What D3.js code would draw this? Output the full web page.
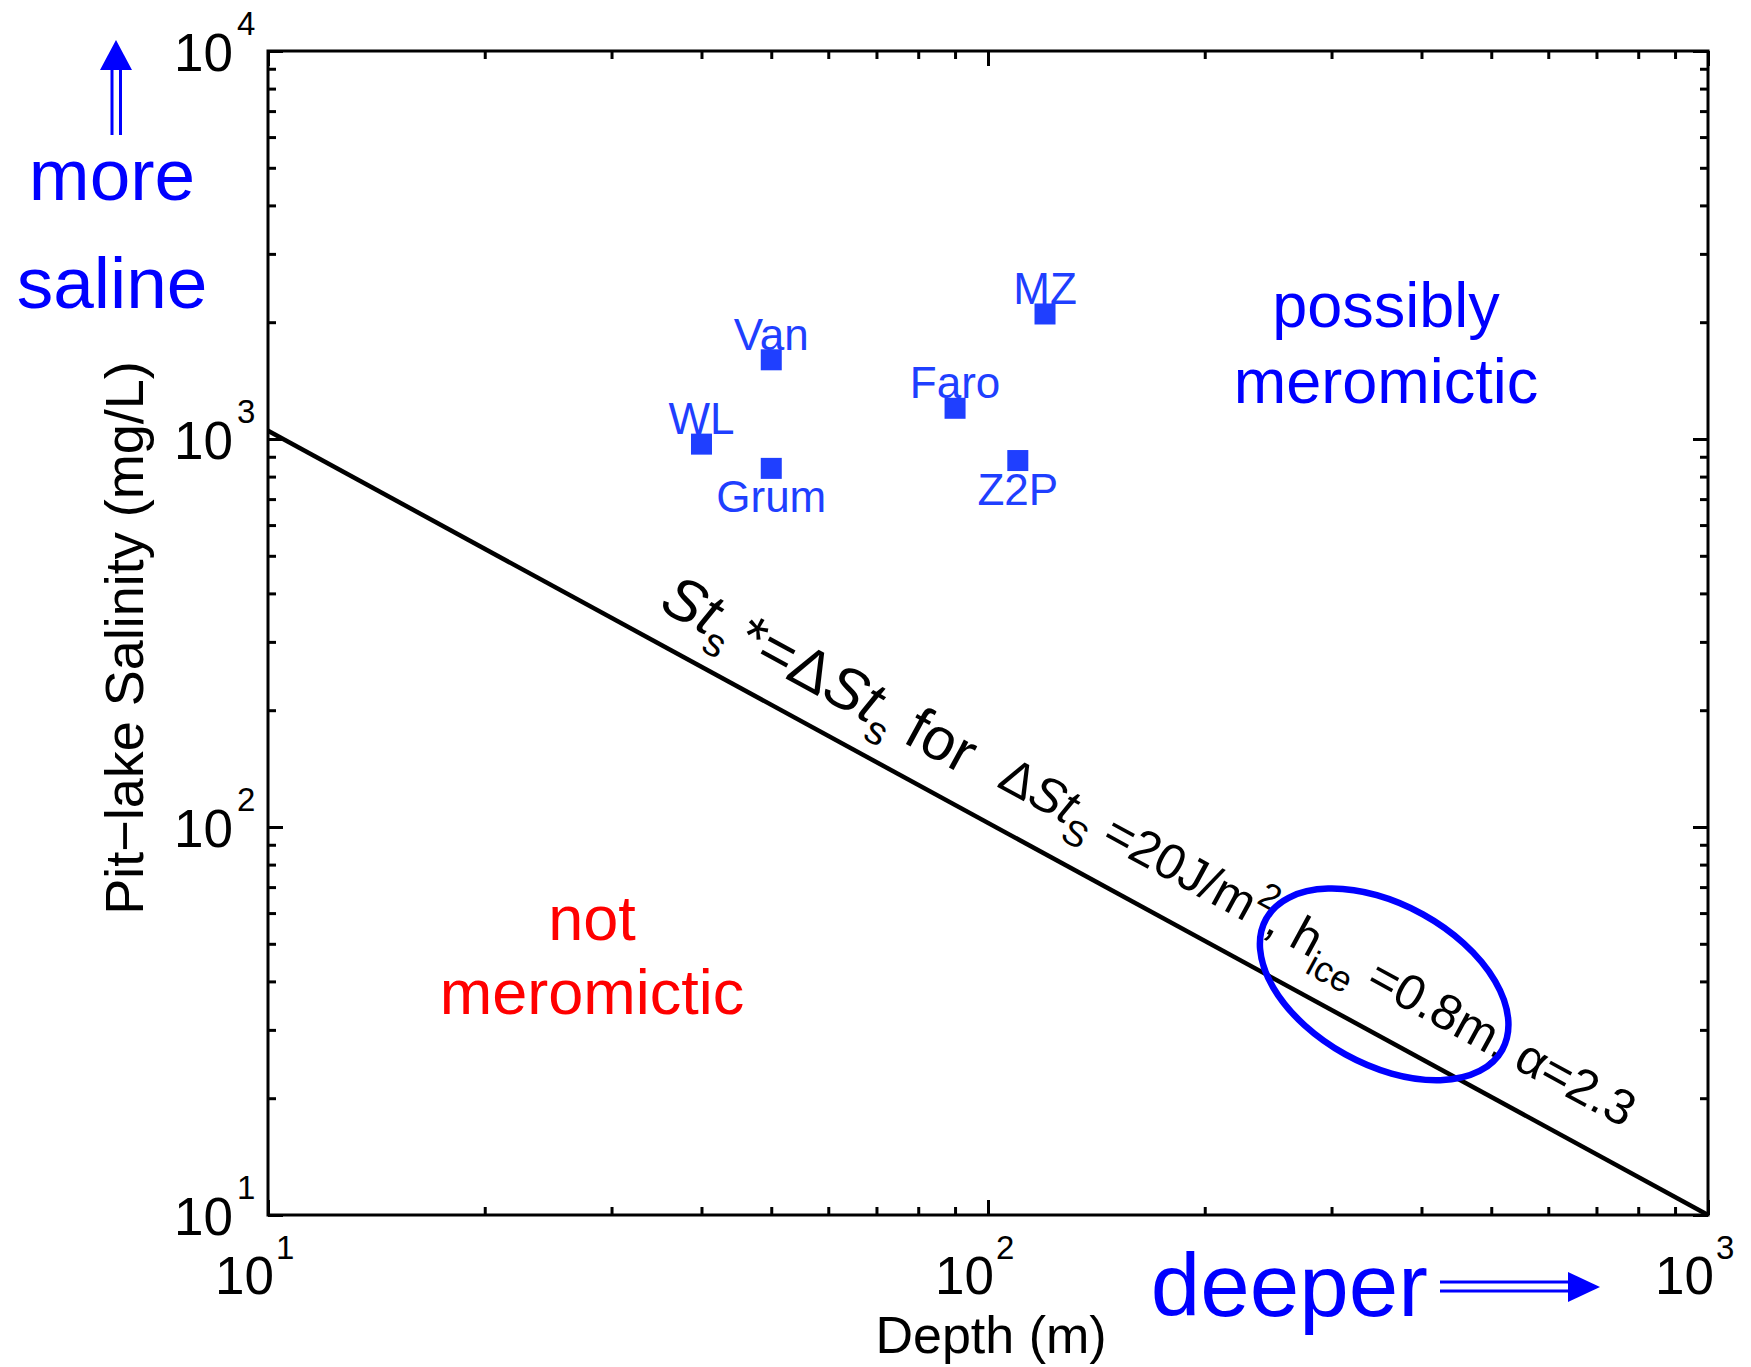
<!DOCTYPE html>
<html>
<head>
<meta charset="utf-8">
<script src="https://cdn.jsdelivr.net/npm/d3@7"></script>
<style>
  body { margin: 0; background: #fff; }
  text { font-family: "Liberation Sans", Arial, Helvetica, sans-serif; }
</style>
</head>
<body>
<svg id="chart" width="1751" height="1367"></svg>
<script>
// pit lakes: depth (m) vs salinity (mg/L)
var sites = ['WL', 'Van', 'Grum', 'Faro', 'Z2P', 'MZ']
var depth = [40, 50, 50, 90, 110, 120]
var salinity = [970, 1600, 840, 1200, 880, 2100]
var labelSide = ['above', 'above', 'below', 'above', 'below', 'above']

// threshold line St*=dSt
var lineDepth = [10, 1000]
var lineSal = [1050, 10]

var xMajor = [10, 100, 1000]
var xMinor = [20, 30, 40, 50, 60, 70, 80, 90, 200, 300, 400, 500, 600, 700, 800, 900]
var yMajor = [10, 100, 1000, 10000]
var yMinor = [20, 30, 40, 50, 60, 70, 80, 90, 200, 300, 400, 500, 600, 700, 800, 900,
              2000, 3000, 4000, 5000, 6000, 7000, 8000, 9000]
var xExp = ['1', '2', '3']
var yExp = ['1', '2', '3', '4']

var L = 268, R = 1708, T = 51, B = 1215
var BLUE = '#0000ff', PTS = '#1f3fff'

var svg = d3.select('#chart')
var x = d3.scaleLog().domain([10, 1000]).range([L, R])
var y = d3.scaleLog().domain([10, 10000]).range([B, T])

// ticks, inward on all four sides
var ticks = function (axis, vals, len, tr) {
  svg.append('g')
     .attr('transform', tr)
     .call(axis.tickValues(vals).tickSize(-len).tickFormat(''))
     .call(g => g.select('.domain').remove())
     .selectAll('line')
     .attr('stroke', '#000')
     .attr('stroke-width', 3)
}
ticks(d3.axisBottom(x), xMajor, 15, `translate(0,${B})`)
ticks(d3.axisBottom(x), xMinor, 8, `translate(0,${B})`)
ticks(d3.axisTop(x), xMajor, 15, `translate(0,${T})`)
ticks(d3.axisTop(x), xMinor, 8, `translate(0,${T})`)
ticks(d3.axisLeft(y), yMajor, 15, `translate(${L},0)`)
ticks(d3.axisLeft(y), yMinor, 8, `translate(${L},0)`)
ticks(d3.axisRight(y), yMajor, 15, `translate(${R},0)`)
ticks(d3.axisRight(y), yMinor, 8, `translate(${R},0)`)

svg.append('rect')
   .attr('x', L).attr('y', T)
   .attr('width', R - L).attr('height', B - T)
   .attr('fill', 'none')
   .attr('stroke', '#000')
   .attr('stroke-width', 3)

// tick labels 10^n
xMajor.forEach(function (v, i) {
  svg.append('text').attr('x', x(v) + 6).attr('y', 1294)
     .attr('text-anchor', 'end').attr('font-size', 53).text('10')
  svg.append('text').attr('x', x(v) + 8).attr('y', 1259)
     .attr('font-size', 33).text(xExp[i])
})
yMajor.forEach(function (v, i) {
  svg.append('text').attr('x', L - 35).attr('y', y(v) + 20)
     .attr('text-anchor', 'end').attr('font-size', 53).text('10')
  svg.append('text').attr('x', L - 31).attr('y', y(v) - 16)
     .attr('font-size', 33).text(yExp[i])
})

svg.append('text')
   .attr('x', 991).attr('y', 1353)
   .attr('text-anchor', 'middle').attr('font-size', 52)
   .text('Depth (m)')
svg.append('text')
   .attr('transform', 'translate(143,638) rotate(-90)')
   .attr('text-anchor', 'middle').attr('font-size', 54)
   .text('Pit\u2212lake Salinity (mg/L)')

// threshold line
svg.append('line')
   .attr('x1', x(lineDepth[0])).attr('y1', y(lineSal[0]))
   .attr('x2', x(lineDepth[1])).attr('y2', y(lineSal[1]))
   .attr('stroke', '#000')
   .attr('stroke-width', 4.5)

// points and labels
var pts = svg.append('g')
pts.selectAll('rect')
   .data(sites)
   .enter()
   .append('rect')
   .attr('x', (d, i) => x(depth[i]) - 10.5)
   .attr('y', (d, i) => y(salinity[i]) - 10.5)
   .attr('width', 21).attr('height', 21)
   .attr('fill', PTS)
pts.selectAll('text')
   .data(sites)
   .enter()
   .append('text')
   .attr('x', (d, i) => x(depth[i]))
   .attr('y', (d, i) => y(salinity[i]) + (labelSide[i] == 'above' ? -10 : 44))
   .attr('text-anchor', 'middle')
   .attr('font-size', 44)
   .attr('fill', PTS)
   .text(d => d)

// text along the line
var ang = Math.atan2(y(lineSal[1]) - y(lineSal[0]), x(lineDepth[1]) - x(lineDepth[0]))
var alongLine = function (d, off) {
  var t = (x(d) - x(lineDepth[0])) / (x(lineDepth[1]) - x(lineDepth[0]))
  var py = y(lineSal[0]) + t * (y(lineSal[1]) - y(lineSal[0]))
  return [x(d) + off * Math.sin(ang), py - off * Math.cos(ang)]
}
var rot = function (p) { return `translate(${p[0]},${p[1]}) rotate(${ang * 180 / Math.PI})` }

var t1 = svg.append('text').attr('transform', rot(alongLine(33.2, 30))).attr('font-size', 60)
t1.append('tspan').attr('font-style', 'italic').text('St')
t1.append('tspan').attr('font-size', 40).attr('dy', 16).text('s')
t1.append('tspan').attr('dy', -16).attr('dx', 9).text('*=\u0394')
t1.append('tspan').attr('font-style', 'italic').text('St')
t1.append('tspan').attr('font-size', 40).attr('dy', 16).text('s')
t1.append('tspan').attr('dy', -16).text(' for')

var t2 = svg.append('text').attr('transform', rot(alongLine(97, 36))).attr('font-size', 50)
t2.append('tspan').text('\u0394')
t2.append('tspan').attr('font-style', 'italic').text('St')
t2.append('tspan').attr('font-size', 36).attr('dy', 16).text('S')
t2.append('tspan').attr('dy', -16).text(' =20J/m')
t2.append('tspan').attr('font-size', 36).attr('dy', -22).text('2')
t2.append('tspan').attr('dy', 22).text(',  h')
t2.append('tspan').attr('font-size', 36).attr('dy', 16).text('ice')
t2.append('tspan').attr('dy', -16).text(' =0.8m, \u03b1=2.3')

// highlight ellipse
var ec = [x(355), y(39.3)]
svg.append('ellipse')
   .attr('transform', `translate(${ec[0]},${ec[1]}) rotate(29)`)
   .attr('rx', 135).attr('ry', 80)
   .attr('fill', 'none')
   .attr('stroke', BLUE)
   .attr('stroke-width', 6.5)

// region notes
var note = function (lines, cx, y0, dy, size, color) {
  lines.forEach(function (s, i) {
    svg.append('text').attr('x', cx).attr('y', y0 + i * dy)
       .attr('text-anchor', 'middle').attr('font-size', size)
       .attr('fill', color).text(s)
  })
}
note(['possibly', 'meromictic'], 1386, 327, 76, 63, BLUE)
note(['not', 'meromictic'], 592, 940, 74, 63, '#ff0000')
note(['more', 'saline'], 112, 200, 108, 73, BLUE)

svg.append('text')
   .attr('x', 1428).attr('y', 1316)
   .attr('text-anchor', 'end').attr('font-size', 89)
   .attr('fill', BLUE).text('deeper')

// double-shaft arrows
var arr = svg.append('g').attr('stroke', BLUE).attr('stroke-width', 3)
arr.append('line').attr('x1', 112).attr('y1', 135).attr('x2', 112).attr('y2', 68)
arr.append('line').attr('x1', 120.5).attr('y1', 135).attr('x2', 120.5).attr('y2', 68)
arr.append('line').attr('x1', 1440).attr('y1', 1282).attr('x2', 1570).attr('y2', 1282)
arr.append('line').attr('x1', 1440).attr('y1', 1291).attr('x2', 1570).attr('y2', 1291)
svg.append('path').attr('d', 'M100,70 L132,70 L116,40 Z').attr('fill', BLUE)
svg.append('path').attr('d', 'M1568,1272 L1568,1302 L1600,1287 Z').attr('fill', BLUE)
</script>
</body>
</html>
